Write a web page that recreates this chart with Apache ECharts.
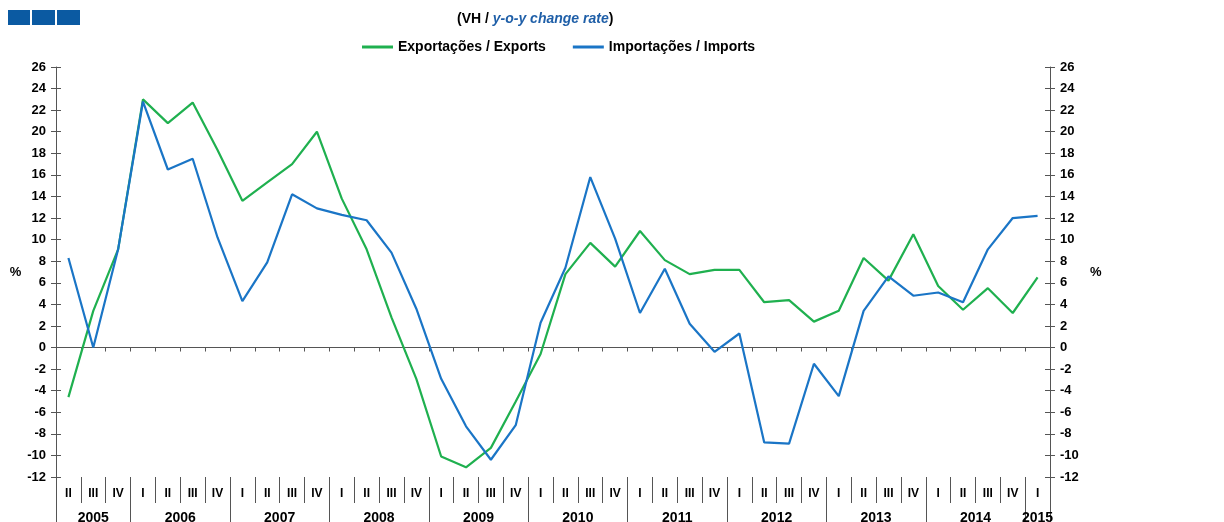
<!DOCTYPE html>
<html>
<head>
<meta charset="utf-8">
<script src="https://cdn.jsdelivr.net/npm/echarts@6/dist/echarts.min.js"></script>
<style>
  html, body { margin: 0; padding: 0; background: #fff; }
  #chart { width: 1224px; height: 522px; }
</style>
</head>
<body>
<div id="chart"></div>
<script>
// quarters 2005 II .. 2015 I
var quarterLabels = ['II','III','IV',
  'I','II','III','IV', 'I','II','III','IV', 'I','II','III','IV',
  'I','II','III','IV', 'I','II','III','IV', 'I','II','III','IV',
  'I','II','III','IV', 'I','II','III','IV', 'I','II','III','IV',
  'I'];
var years = ['2005','2006','2007','2008','2009','2010','2011','2012','2013','2014','2015'];

var exportsData = [-4.6, 3.4, 9.1, 23.0, 20.8, 22.7, 18.3, 13.6, 15.3, 17.0,
  20.0, 13.8, 9.1, 2.8, -2.9, -10.1, -11.1, -9.3, -5.0, -0.6,
  6.8, 9.7, 7.5, 10.8, 8.1, 6.8, 7.2, 7.2, 4.2, 4.4,
  2.4, 3.4, 8.3, 6.2, 10.5, 5.7, 3.5, 5.5, 3.2, 6.5];
var importsData = [8.3, 0.0, 9.1, 22.8, 16.5, 17.5, 10.2, 4.3, 7.9, 14.2,
  12.9, 12.3, 11.8, 8.8, 3.6, -2.9, -7.3, -10.4, -7.2, 2.3,
  7.4, 15.8, 10.1, 3.2, 7.3, 2.2, -0.4, 1.3, -8.8, -8.9,
  -1.5, -4.5, 3.4, 6.6, 4.8, 5.1, 4.2, 9.1, 12.0, 12.2];

var yTicks = {min: -12, max: 26, step: 2};

// year axis: half-quarter steps, label at the middle of each year, separator at each year start
var yearCells = [];
var yearBounds = {};
for (var k = 0; k <= quarterLabels.length * 2; k++) yearCells.push('');
var start = 0, y = 0;
for (var i = 0; i <= quarterLabels.length; i++) {
  if (i === quarterLabels.length || (i > 0 && quarterLabels[i] === 'I')) {
    yearBounds[start * 2] = true;
    yearCells[start + i] = years[y];
    y++;
    start = i;
  }
}
yearBounds[quarterLabels.length * 2] = true;

var axisCol = '#555';
var font = 'Liberation Sans, Arial, sans-serif';

function yAx(pos, inside) {
  return {
    type: 'value', position: pos,
    min: yTicks.min, max: yTicks.max, interval: yTicks.step,
    name: inside ? '' : '%', nameLocation: 'middle', nameRotate: 0,
    nameGap: pos === 'left' ? 34 : 40,
    nameTextStyle: {color: '#000', fontWeight: 'bold', fontSize: 13, fontFamily: font},
    axisLine: {show: !inside, lineStyle: {color: axisCol, width: 1}},
    axisTick: {show: true, inside: inside, length: 5, lineStyle: {color: axisCol}},
    axisLabel: {show: !inside, margin: 10, fontSize: 13, color: '#000', fontWeight: 'bold', fontFamily: font},
    splitLine: {show: false}
  };
}

var myChart = echarts.init(document.getElementById('chart'));
myChart.setOption({
  animation: false,
  backgroundColor: '#fff',
  title: {
    text: '(VH / {b|y-o-y change rate})',
    left: 452, top: 7,
    textStyle: {
      fontSize: 14, fontWeight: 'bold', color: '#000', fontFamily: font,
      rich: {b: {fontSize: 14, fontWeight: 'bold', fontStyle: 'italic', color: '#1f5fa8', fontFamily: font}}
    }
  },
  graphic: [
    {type: 'rect', left: 8, top: 10, shape: {width: 22, height: 15}, style: {fill: '#0b5aa2'}},
    {type: 'rect', left: 32, top: 10, shape: {width: 23, height: 15}, style: {fill: '#0b5aa2'}},
    {type: 'rect', left: 57, top: 10, shape: {width: 23, height: 15}, style: {fill: '#0b5aa2'}}
  ],
  legend: {
    left: 357, top: 35,
    itemWidth: 31, itemHeight: 3, itemGap: 27,
    textStyle: {fontSize: 14, fontWeight: 'bold', color: '#000', fontFamily: font},
    data: [
      {name: 'Exportações / Exports', icon: 'rect'},
      {name: 'Importações / Imports', icon: 'rect'}
    ]
  },
  grid: {left: 56, right: 174, top: 67, bottom: 45, outerBoundsMode: 'none', containLabel: false},
  xAxis: [
    {
      type: 'category', data: quarterLabels, boundaryGap: true,
      axisLine: {show: true, onZero: true, lineStyle: {color: axisCol}},
      axisTick: {show: true, interval: 0, length: 4, lineStyle: {color: axisCol}},
      axisLabel: {show: false}
    },
    {
      type: 'category', data: quarterLabels, boundaryGap: true, position: 'bottom',
      axisLine: {show: false, onZero: false},
      axisTick: {show: true, interval: 0, length: 26, lineStyle: {color: axisCol}},
      axisLabel: {interval: 0, margin: 11, fontSize: 12, color: '#000', fontWeight: 'bold', fontFamily: font}
    },
    {
      type: 'category', data: yearCells, boundaryGap: false, position: 'bottom',
      axisLine: {show: false, onZero: false},
      axisTick: {show: true, length: 60, lineStyle: {color: axisCol},
        interval: function (idx) { return !!yearBounds[idx]; }},
      axisLabel: {margin: 34, fontSize: 14, color: '#000', fontWeight: 'bold', fontFamily: font,
        interval: function (idx, val) { return val !== ''; }}
    }
  ],
  yAxis: [yAx('left', false), yAx('right', false), yAx('left', true), yAx('right', true)],
  series: [
    {
      name: 'Exportações / Exports', type: 'line', data: exportsData,
      xAxisIndex: 0, yAxisIndex: 0, symbol: 'none',
      itemStyle: {color: '#1fb04f'},
      lineStyle: {color: '#1fb04f', width: 2.2}
    },
    {
      name: 'Importações / Imports', type: 'line', data: importsData,
      xAxisIndex: 0, yAxisIndex: 0, symbol: 'none',
      itemStyle: {color: '#1a75c6'},
      lineStyle: {color: '#1a75c6', width: 2.2}
    }
  ]
});
</script>
</body>
</html>
